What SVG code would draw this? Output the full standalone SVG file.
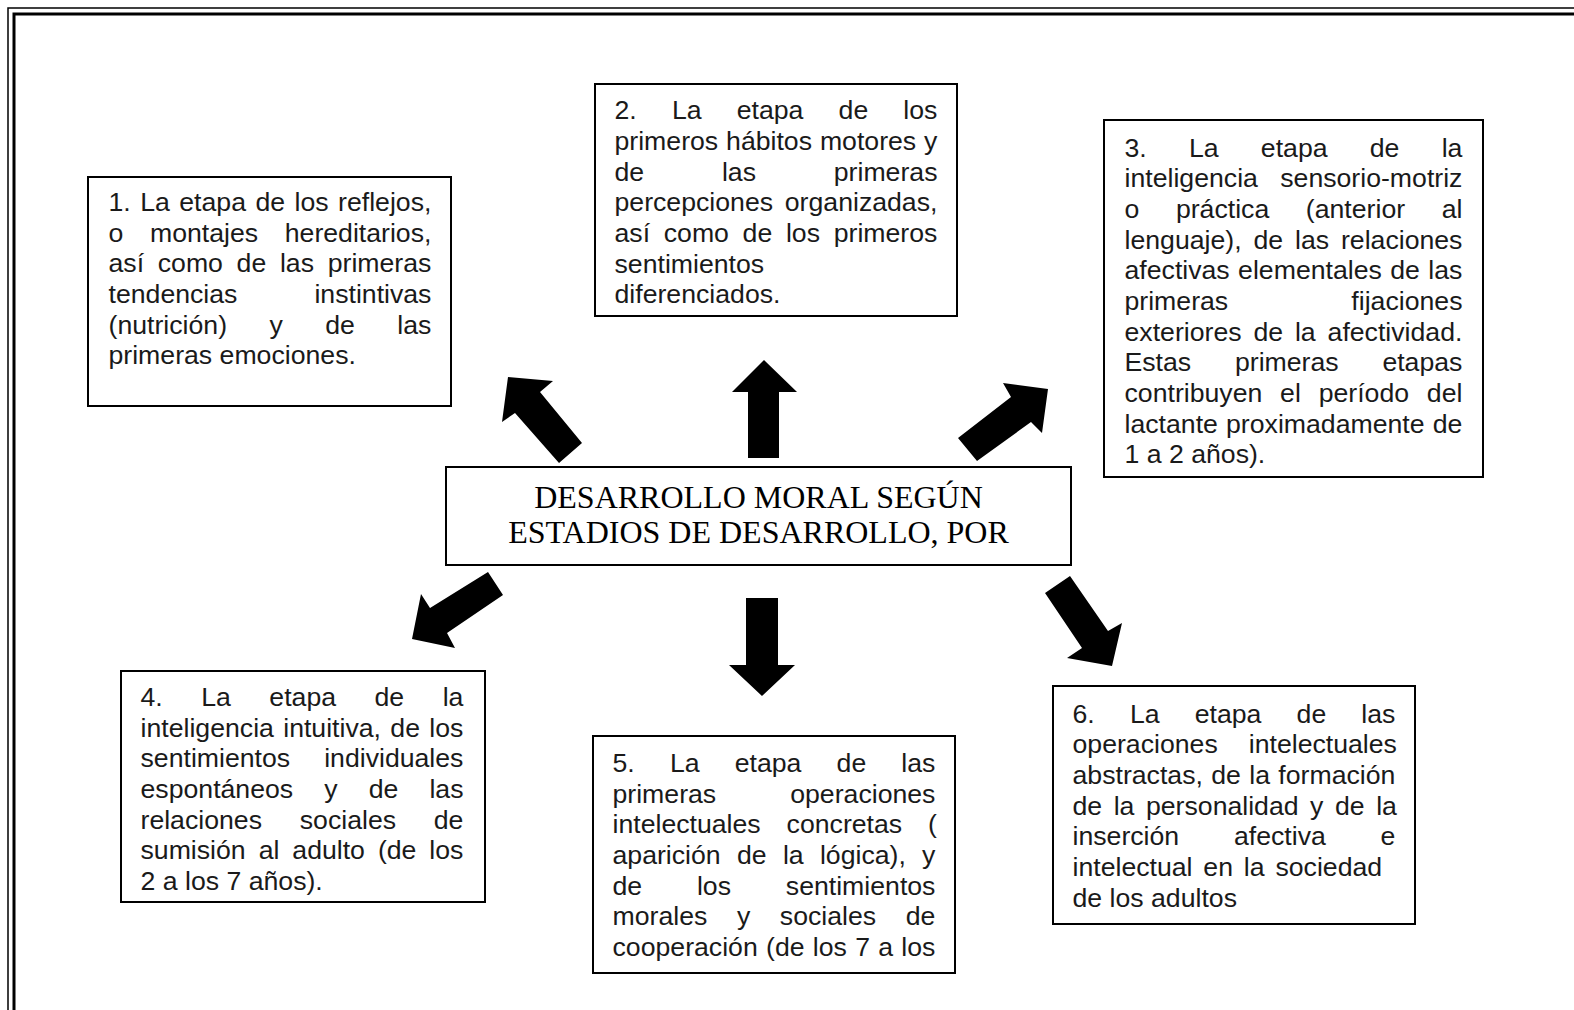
<svg xmlns="http://www.w3.org/2000/svg" width="1574" height="1010" viewBox="0 0 1574 1010">
<style>
.box{fill:#fff;stroke:#000;stroke-width:2}
.t{font-family:"Liberation Sans",Arial,sans-serif;font-size:26.67px;fill:#1a1a1a}
.c{font-family:"Liberation Serif","Times New Roman",serif;font-size:32px;fill:#000;text-anchor:middle}
.arr{fill:#000}
.frame{fill:none;stroke:#000}
</style>
<rect x="0" y="0" width="1574" height="1010" fill="#fff"/>
<g id="frame">
<path class="frame" d="M8 1012 V8 H1576" stroke-width="1.5"/>
<path class="frame" d="M14 1012 V14 H1576" stroke-width="3"/>
</g>
<g id="connectors">
<polygon class="arr" points="508,377 553,381 540,392 582,443 559,463 515,413 502,422"/>
<polygon class="arr" points="764,360 797,392 779,392 779,458 748,458 748,392 732,392"/>
<polygon class="arr" points="1048,389 1042,433 1031,422 977,461 958,438 1011,397 1003,383"/>
<polygon class="arr" points="412,639 421,594 430,608 488,572 503,595 447,633 455,648"/>
<polygon class="arr" points="746,598 778,598 778,665 795,665 762,696 729,665 746,665"/>
<polygon class="arr" points="1070,576 1108,631 1122,623 1112,666 1067,658 1082,648 1045,593"/>
</g>
<g id="center">
<rect class="box" x="446" y="467" width="625" height="98"/>
<text class="c" x="758.5" y="508">DESARROLLO MORAL SEGÚN</text>
<text class="c" x="758.5" y="543">ESTADIOS DE DESARROLLO, POR</text>
</g>
<g id="node1">
<rect class="box" x="88" y="177" width="363" height="229"/>
<text class="t" x="108.5" y="210.8" word-spacing="2.05">1. La etapa de los reflejos,</text>
<text class="t" x="108.5" y="241.5" word-spacing="19.22">o montajes hereditarios,</text>
<text class="t" x="108.5" y="272.1" word-spacing="6.28">así como de las primeras</text>
<text class="t" x="108.5" y="302.8" word-spacing="69.56">tendencias instintivas</text>
<text class="t" x="108.5" y="333.5" word-spacing="35.05">(nutrición) y de las</text>
<text class="t" x="108.5" y="364.2">primeras emociones.</text>
</g>
<g id="node2">
<rect class="box" x="595" y="84" width="362" height="232"/>
<text class="t" x="614.5" y="119.4" word-spacing="27.75">2. La etapa de los</text>
<text class="t" x="614.5" y="150.1" word-spacing="0.47">primeros hábitos motores y</text>
<text class="t" x="614.5" y="180.7" word-spacing="70.37">de las primeras</text>
<text class="t" x="614.5" y="211.4" word-spacing="4.33">percepciones organizadas,</text>
<text class="t" x="614.5" y="242.1" word-spacing="6.28">así como de los primeros</text>
<text class="t" x="614.5" y="272.7">sentimientos</text>
<text class="t" x="614.5" y="303.4">diferenciados.</text>
</g>
<g id="node3">
<rect class="box" x="1104" y="120" width="379" height="357"/>
<text class="t" x="1124.5" y="156.6" word-spacing="34.83">3. La etapa de la</text>
<text class="t" x="1124.5" y="187.3" word-spacing="14.96">inteligencia sensorio-motriz</text>
<text class="t" x="1124.5" y="217.9" word-spacing="29.18">o práctica (anterior al</text>
<text class="t" x="1124.5" y="248.6" word-spacing="4.47">lenguaje), de las relaciones</text>
<text class="t" x="1124.5" y="279.3" word-spacing="1.01">afectivas elementales de las</text>
<text class="t" x="1124.5" y="309.9" word-spacing="115.74">primeras fijaciones</text>
<text class="t" x="1124.5" y="340.6" word-spacing="4.47">exteriores de la afectividad.</text>
<text class="t" x="1124.5" y="371.3" word-spacing="36.36">Estas primeras etapas</text>
<text class="t" x="1124.5" y="401.9" word-spacing="10.39">contribuyen el período del</text>
<text class="t" x="1124.5" y="432.6" word-spacing="0.77">lactante proximadamente de</text>
<text class="t" x="1124.5" y="463.3">1 a 2 años).</text>
</g>
<g id="node4">
<rect class="box" x="121" y="671" width="364" height="231"/>
<text class="t" x="140.5" y="706" word-spacing="31.08">4. La etapa de la</text>
<text class="t" x="140.5" y="736.7" word-spacing="1.94">inteligencia intuitiva, de los</text>
<text class="t" x="140.5" y="767.3" word-spacing="26.59">sentimientos individuales</text>
<text class="t" x="140.5" y="798" word-spacing="23.68">espontáneos y de las</text>
<text class="t" x="140.5" y="828.7" word-spacing="30.34">relaciones sociales de</text>
<text class="t" x="140.5" y="859.3" word-spacing="5.54">sumisión al adulto (de los</text>
<text class="t" x="140.5" y="890">2 a los 7 años).</text>
</g>
<g id="node5">
<rect class="box" x="593" y="736" width="362" height="237"/>
<text class="t" x="612.5" y="771.9" word-spacing="27.75">5. La etapa de las</text>
<text class="t" x="612.5" y="802.6" word-spacing="66.62">primeras operaciones</text>
<text class="t" x="612.5" y="833.2" word-spacing="18.49">intelectuales concretas (</text>
<text class="t" x="612.5" y="863.9" word-spacing="8.87">aparición de la lógica), y</text>
<text class="t" x="612.5" y="894.6" word-spacing="47.38">de los sentimientos</text>
<text class="t" x="612.5" y="925.2" word-spacing="22.21">morales y sociales de</text>
<text class="t" x="612.5" y="955.9" word-spacing="0.87">cooperación (de los 7 a los</text>
</g>
<g id="node6">
<rect class="box" x="1053" y="686" width="362" height="238"/>
<text class="t" x="1072.5" y="722.7" word-spacing="27.75">6. La etapa de las</text>
<text class="t" x="1072.5" y="753.4" word-spacing="23.61">operaciones intelectuales</text>
<text class="t" x="1072.5" y="784" word-spacing="0.95">abstractas, de la formación</text>
<text class="t" x="1072.5" y="814.7" word-spacing="4.12">de la personalidad y de la</text>
<text class="t" x="1072.5" y="845.4" word-spacing="47.38">inserción afectiva e</text>
<text class="t" x="1072.5" y="876" word-spacing="3.42">intelectual en la sociedad</text>
<text class="t" x="1072.5" y="906.7">de los adultos</text>
</g>
</svg>
